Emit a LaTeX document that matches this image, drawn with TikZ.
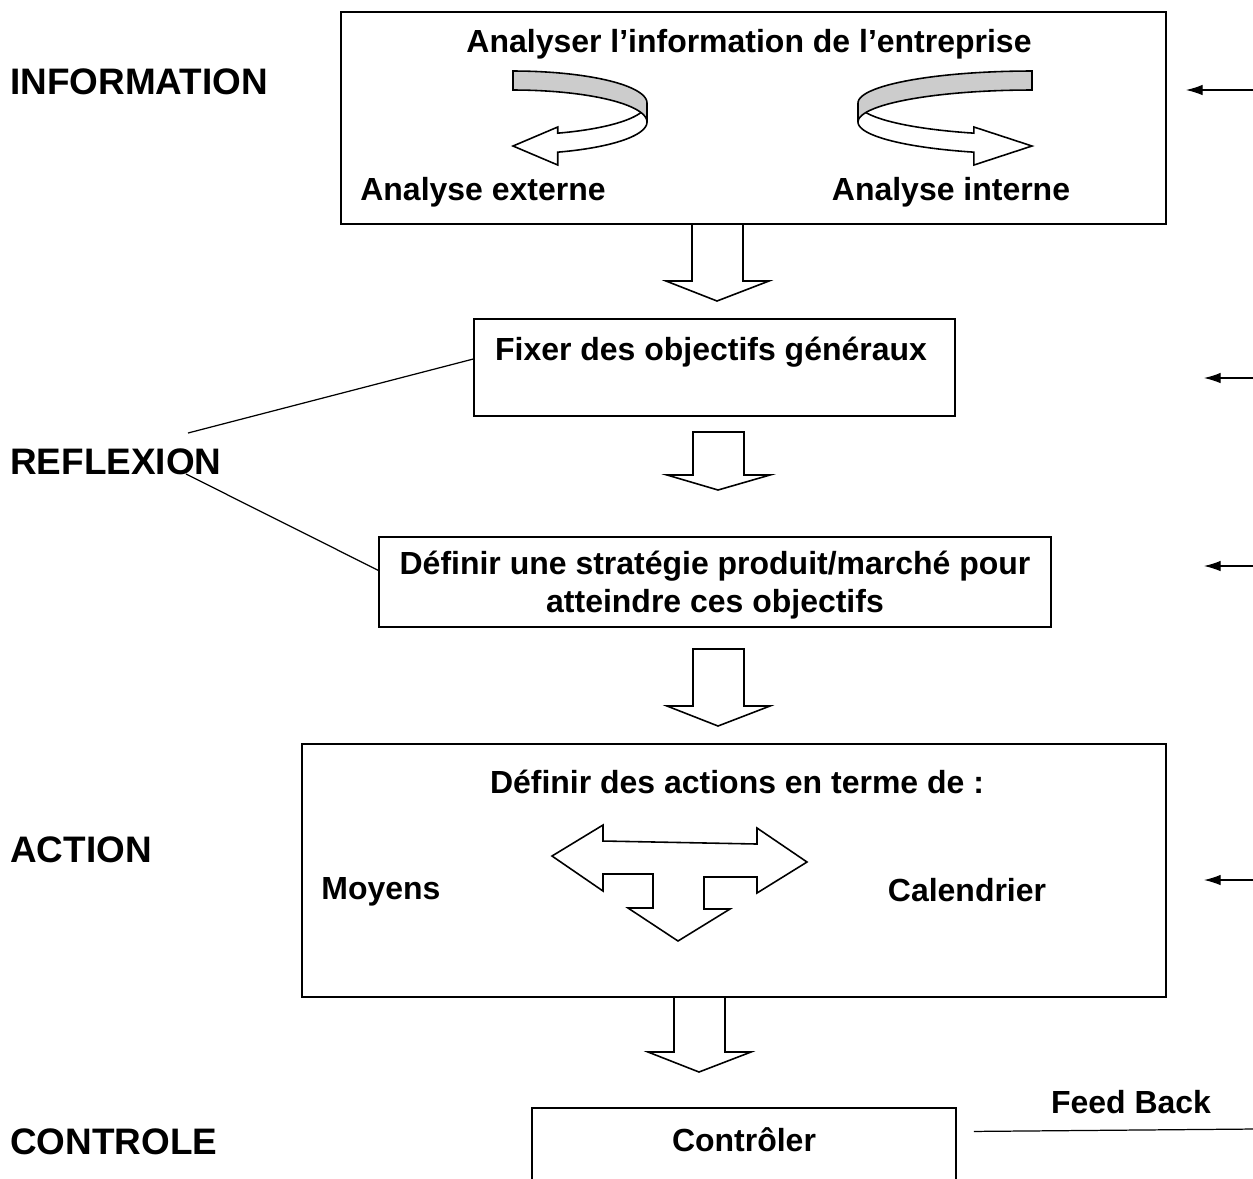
\documentclass[tikz,border=0pt]{standalone}
\usepackage{fontspec}
\setmainfont{Liberation Sans}
\usetikzlibrary{fit,arrows.meta}

\begin{document}
\begin{tikzpicture}[x=0.02cm, y=-0.02cm]
			\tikzstyle{box}=[draw, line width=1.1pt, inner sep=0pt]
			\tikzstyle{txt}=[font=\fontsize{18.2}{21.8}\selectfont\bfseries, inner sep=0pt, align=center]
			\tikzstyle{etape}=[font=\fontsize{21}{25}\selectfont\bfseries, anchor=west, inner sep=0pt]
			\tikzstyle{bloc}=[draw, fill=white, line width=0.9pt, line join=miter]
			\tikzstyle{trait}=[line width=0.7pt]
			\tikzstyle{fleche}=[-{Latex[length=9.5pt,width=6pt]}, line width=0.6pt]
			\clip (0,0) rectangle (1253,1178);
			
			% les cadres
			\node[box, fit={(341,12) (1166,224)}](info){};
			\node[box, fit={(474,319) (955,416)}](fixer){};
			\node[box, fit={(379,537) (1051,627)}](strat){};
			\node[box, fit={(302,744) (1166,997)}](actions){};
			\node[box, fit={(532,1108) (956,1215)}](ctrl){};
			
			% les etapes a gauche
			\node[etape](information) at (10,82){INFORMATION};
			\node[etape](reflexion) at (10,462){REFLEXION};
			\node[etape](action) at (10,850){ACTION};
			\node[etape](controle) at (10,1142){CONTROLE};
			
			% les textes
			\node[txt](t-info) at (749,44){Analyser l'information de l'entreprise};
			\node[txt](t-ext) at (483,192){Analyse externe};
			\node[txt](t-int) at (951,192){Analyse interne};
			\node[txt](t-fixer) at (711,352){Fixer des objectifs généraux};
			\node[txt](t-strat) at (715,585){Définir une stratégie produit/marché pour\\atteindre ces objectifs};
			\node[txt](t-actions) at (737,782){Définir des actions en terme de :};
			\node[txt](t-moyens) at (381,892){Moyens};
			\node[txt](t-cal) at (967,890){Calendrier};
			\node[txt](t-ctrl) at (744,1140){Contrôler};
			\node[txt](t-fb) at (1131,1102){Feed Back};
			
			% fleches creuses vers le bas
			\foreach \cx/\ytop/\yhead/\ytip in {717/224/281/301, 718/432/475/490, 718/649/706/726, 699/997/1052/1072}
			\draw[bloc] (\cx-25,\ytop) -- (\cx+26,\ytop) -- (\cx+26,\yhead) -- (\cx+52,\yhead)
			-- (\cx,\ytip) -- (\cx-51,\yhead) -- (\cx-25,\yhead) -- cycle;
			
			% rubans tournants
			\foreach \cx/\a/\s in {513/134/1, 1032/174/-1}{
				\pgfmathsetmacro\hx{\cx+\s*\a*cos(70.5)}
				\draw[bloc] (\cx+\s*\a,103) -- plot[domain=0:70.5, samples=30] ({\cx+\s*\a*cos(\x)},{103+32*sin(\x)})
				-- (\hx,127) -- (\cx,146) -- (\hx,165)
				-- plot[domain=70.5:0, samples=30] ({\cx+\s*\a*cos(\x)},{122+32*sin(\x)}) -- cycle;
				\draw[bloc, fill=gray!40] (\cx,71) -- plot[domain=-90:0, samples=30] ({\cx+\s*\a*cos(\x)},{103+32*sin(\x)})
				-- plot[domain=0:-90, samples=30] ({\cx+\s*\a*cos(\x)},{122+32*sin(\x)}) -- cycle;
			}
			
			% fleche a trois branches
			\draw[bloc] (552,856) -- (603,825) -- (603,841) -- (757,844) -- (757,828) -- (807,862)
			-- (757,893) -- (757,877) -- (704,877) -- (704,909) -- (730,909) -- (678,941)
			-- (628,908) -- (653,908) -- (653,874) -- (603,874) -- (603,891) -- cycle;
			
			% liens de la reflexion
			\coordinate (r-haut) at (188,433);
			\coordinate (r-bas) at (186,474);
			\draw[trait] (r-haut) -- (fixer.178.7);
			\draw[trait] (r-bas) -- (strat.178.1);
			
			% fleches de droite
			\foreach \i/\y/\t in {1/90/1186, 2/378/1204, 3/566/1204, 4/880/1204}{
				\coordinate (in-\i) at (1255,\y);
				\coordinate (tip-\i) at (\t,\y);
				\draw[fleche] (in-\i) -- (tip-\i);
			}
			
			% feed back
			\coordinate (fb) at (1255,1129);
			\draw[trait, shorten <=0.34cm] (ctrl.{atan(14/(1154-1108+53))}) -- (fb);
			\end{tikzpicture}
\end{document}
